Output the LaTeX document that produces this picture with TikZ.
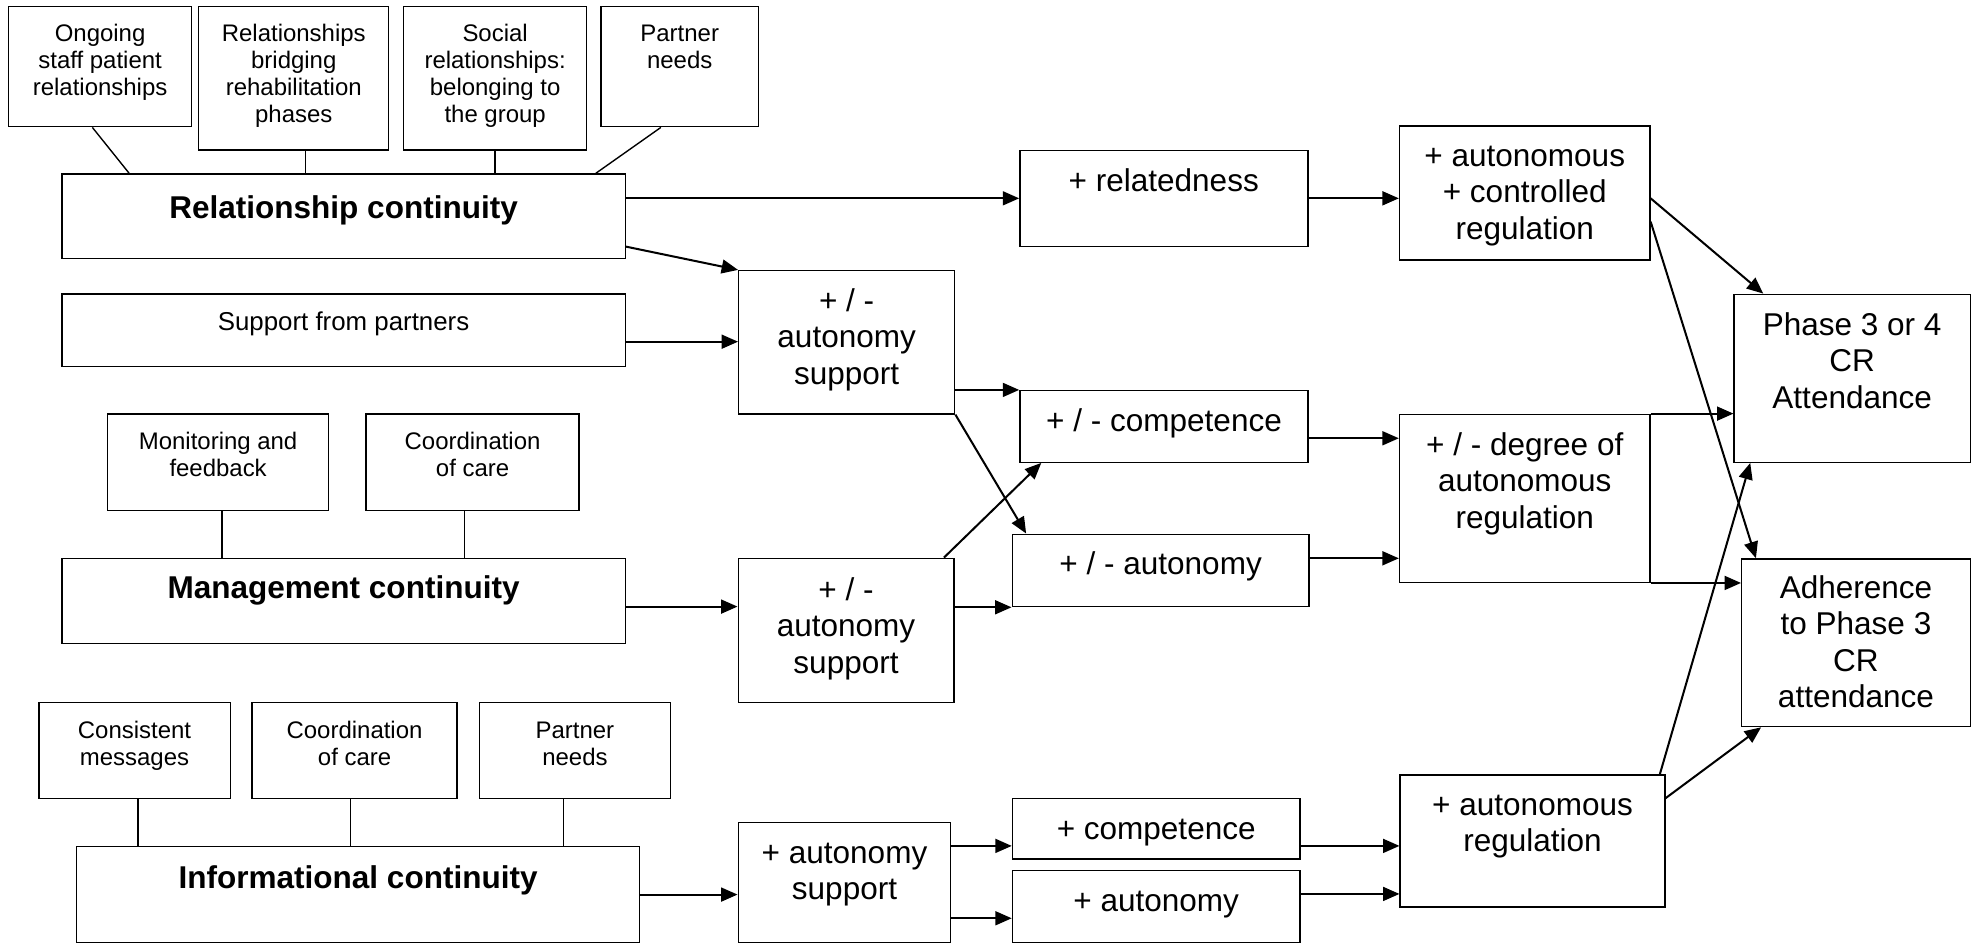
\documentclass[tikz,border=0pt]{standalone}
\usepackage{fontspec}
\setmainfont{Liberation Sans}
\usetikzlibrary{arrows.meta,fit}
\newcommand\mlines[1]{\begin{tabular}[t]{@{}c@{}}#1\end{tabular}}
\begin{document}
\begin{tikzpicture}[x=1pt,y=-1pt,
  box/.style={draw, line width=1.1pt, inner sep=0pt},
  txt/.style={anchor=base, inner sep=0pt, font=\fontsize{25}{29}\selectfont},
  btxt/.style={anchor=base, inner sep=0pt, font=\fontsize{25}{29}\selectfont\bfseries},
  mtxt/.style={anchor=base, inner sep=0pt, font=\fontsize{20.5}{24}\selectfont},
  stxt/.style={anchor=base, inner sep=0pt, font=\fontsize{19}{21.5}\selectfont},
  arr/.style={line width=1.6pt, -{Triangle[length=13pt,width=11pt]}},
  lnk/.style={line width=1.1pt}]
\useasboundingbox (0,0) rectangle (1568,749);
% boxes
\node[box, fit={(6.9,5.3) (151.9,100.5)}] (b1) {};
\node[box, fit={(157.6,5.3) (308.3,119)}] (b2) {};
\node[box, fit={(320.2,5.3) (465.1,119)}] (b3) {};
\node[box, fit={(476.6,5.3) (601.6,100.5)}] (b4) {};
\node[box, fit={(49.2,138) (495.9,204.9)}] (rc) {};
\node[box, fit={(49.2,233.1) (495.9,290.8)}] (sup) {};
\node[box, fit={(85.3,328.3) (260.6,405)}] (mon) {};
\node[box, fit={(290.2,328.3) (459.3,405)}] (coo) {};
\node[box, fit={(49.2,442.8) (495.9,510.2)}] (mc) {};
\node[box, fit={(30.8,557.2) (182.6,633.1)}] (cm) {};
\node[box, fit={(199.9,557.2) (362.4,633.1)}] (coi) {};
\node[box, fit={(380.5,557.2) (531.6,633.1)}] (pni) {};
\node[box, fit={(60.7,671.4) (507.4,747.3)}] (ic) {};
\node[box, fit={(808.9,119.5) (1037.3,195.6)}] (rel) {};
\node[box, fit={(585.9,214.6) (757.2,328.3)}] (as1) {};
\node[box, fit={(808.9,309.8) (1037.5,366.6)}] (comp) {};
\node[box, fit={(802.8,423.7) (1038.3,481.1)}] (aut) {};
\node[box, fit={(585.5,442.8) (756.6,557.2)}] (as2) {};
\node[box, fit={(585.5,652.4) (754,747.5)}] (as3) {};
\node[box, fit={(803,633.1) (1031,681.4)}] (pc) {};
\node[box, fit={(803,690.4) (1031,747.5)}] (pa) {};
\node[box, fit={(1110,99.9) (1308.6,206.2)}] (acr) {};
\node[box, fit={(1110,328.6) (1308.6,461.8)}] (deg) {};
\node[box, fit={(1110.5,614.6) (1320.4,719.5)}] (ar) {};
\node[box, fit={(1375.4,233.4) (1562.7,366.6)}] (ph) {};
\node[box, fit={(1381.4,443.3) (1562.8,576.3)}] (adh) {};
% texts
\node[stxt] (tb1) at (79.4,33) {\mlines{Ongoing\\staff patient\\relationships}};
\node[stxt] (tb2) at (233,33) {\mlines{Relationships\\bridging\\rehabilitation\\phases}};
\node[stxt] (tb3) at (392.7,33) {\mlines{Social\\relationships:\\belonging to\\the group}};
\node[stxt] (tb4) at (539.1,33) {\mlines{Partner\\needs}};
\node[btxt] (trc) at (272.5,173) {Relationship continuity};
\node[mtxt] (tsup) at (272.5,262) {Support from partners};
\node[stxt] (tmon) at (173,356.5) {\mlines{Monitoring and\\feedback}};
\node[stxt] (tcoo) at (374.8,356.5) {\mlines{Coordination\\of care}};
\node[btxt] (tmc) at (272.5,474.5) {Management continuity};
\node[stxt] (tcm) at (106.7,585.5) {\mlines{Consistent\\messages}};
\node[stxt] (tcoi) at (281.2,585.5) {\mlines{Coordination\\of care}};
\node[stxt] (tpni) at (456,585.5) {\mlines{Partner\\needs}};
\node[btxt] (tic) at (284,704.5) {Informational continuity};
\node[txt] (trel) at (923,152) {+ relatedness};
\node[txt] (tas1) at (671.5,247) {\mlines{+ / -\\autonomy\\support}};
\node[txt] (tcomp) at (923.2,342.5) {+ / - competence};
\node[txt] (taut) at (920.5,456) {+ / - autonomy};
\node[txt] (tas2) at (671,476) {\mlines{+ / -\\autonomy\\support}};
\node[txt] (tas3) at (669.8,684.7) {\mlines{+ autonomy\\support}};
\node[txt] (tpc) at (917,666) {+ competence};
\node[txt] (tpa) at (917,723) {+ autonomy};
\node[txt] (tacr) at (1209.3,132) {\mlines{+ autonomous\\+ controlled\\regulation}};
\node[txt] (tdeg) at (1209.3,361) {\mlines{+ / - degree of\\autonomous\\regulation}};
\node[txt] (tar) at (1215.5,646.5) {\mlines{+ autonomous\\regulation}};
\node[txt] (tph) at (1469,265.7) {\mlines{Phase 3 or 4\\CR\\Attendance}};
\node[txt] (tadh) at (1472,474.5) {\mlines{Adherence\\to Phase 3\\CR\\attendance}};
% plain links
\draw[lnk] ([xshift=66.9pt]b1.south west) -- ([xshift=53.8pt]rc.north west);
\draw[lnk] (b2.south -| 242.2,0) -- (rc.north -| 242.2,0);
\draw[lnk] (b3.south) -- (rc.north -| b3.south);
\draw[lnk] ([xshift=48.1pt]b4.south west) -- ([xshift=-23.9pt]rc.north east);
\draw[lnk] (mon.south -| 176,0) -- (mc.north -| 176,0);
\draw[lnk] (coo.south -| 368.2,0) -- (mc.north -| 368.2,0);
\draw[lnk] (cm.south -| 109.5,0) -- (ic.north -| 109.5,0);
\draw[lnk] (coi.south -| 277.9,0) -- (ic.north -| 277.9,0);
\draw[lnk] (pni.south -| 447,0) -- (ic.north -| 447,0);
% arrows
\draw[arr] (rc.east |- 0,157.3) -- (rel.west |- 0,157.3);
\draw[arr] (rc.east |- 0,195.6) -- (as1.north west);
\draw[arr] (rel.east |- 0,157.3) -- (acr.west |- 0,157.3);
\draw[arr] (sup.east |- 0,271) -- (as1.west |- 0,271);
\draw[arr] (as1.east |- comp.north west) -- (comp.north west);
\draw[arr] (as1.south east) -- ([xshift=11.6pt]aut.north west);
\draw[arr] (mc.east |- 0,481.1) -- (as2.west |- 0,481.1);
\draw[arr] ([xshift=-8.5pt]as2.north east) -- ([xshift=17.5pt]comp.south west);
\draw[arr] (as2.east |- aut.south west) -- (aut.south west);
\draw[arr] (comp.east |- 0,347.6) -- (deg.west |- 0,347.6);
\draw[arr] (aut.east |- 0,442.8) -- (deg.west |- 0,442.8);
\draw[arr] (acr.east |- 0,157.3) -- ([xshift=23.6pt]ph.north west);
\draw[arr] (acr.east |- 0,175.8) -- ([xshift=11.8pt]adh.north west);
\draw[arr] (deg.north east) -- (ph.west |- deg.north east);
\draw[arr] (deg.south east) -- (adh.west |- deg.south east);
\draw[arr] ([xshift=-4.5pt]ar.north east) -- ([xshift=13.3pt]ph.south west);
\draw[arr] (ar.east |- 0,633.1) -- ([xshift=15.9pt]adh.south west);
\draw[arr] (ic.east |- 0,709.5) -- (as3.west |- 0,709.5);
\draw[arr] (as3.east |- 0,670.9) -- (pc.west |- 0,670.9);
\draw[arr] (as3.east |- 0,728.3) -- (pa.west |- 0,728.3);
\draw[arr] (pc.east |- 0,670.9) -- (ar.west |- 0,670.9);
\draw[arr] (pa.east |- 0,709) -- (ar.west |- 0,709);
\end{tikzpicture}
\end{document}
